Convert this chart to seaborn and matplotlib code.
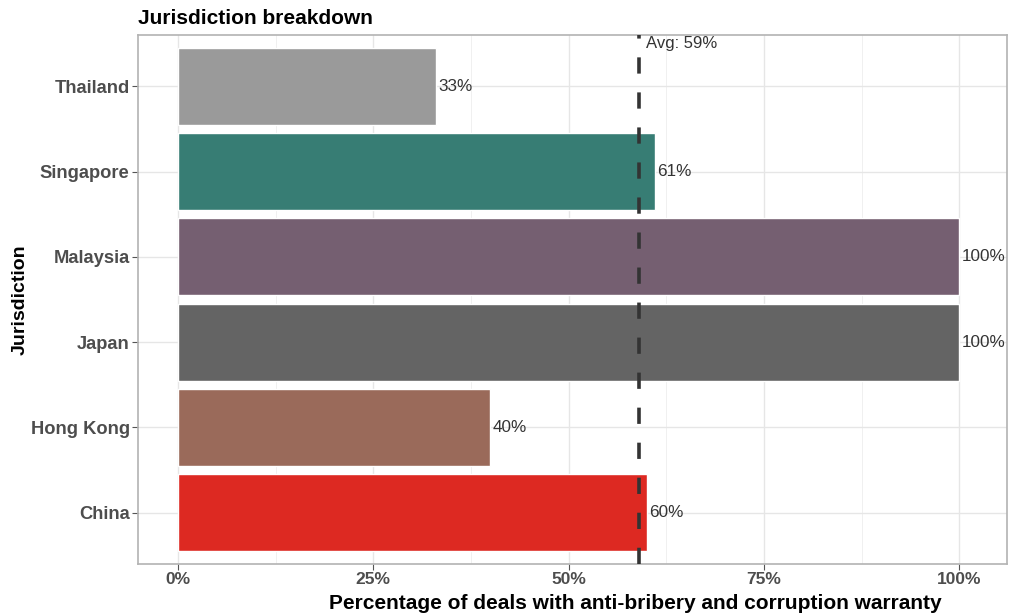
import matplotlib
matplotlib.use("Agg")
import matplotlib.pyplot as plt
import seaborn as sns
import pandas as pd

# Data
jurisdictions = ["Thailand", "Singapore", "Malaysia", "Japan", "Hong Kong", "China"]
percentages = [33, 61, 100, 100, 40, 60]
bar_colors = ["#9a9a9a", "#377d74", "#755f71", "#646464", "#9a6a5a", "#dd2922"]
average = 59
x_ticks = [0, 25, 50, 75, 100]
x_tick_labels = ["0%", "25%", "50%", "75%", "100%"]

df = pd.DataFrame({"Jurisdiction": jurisdictions, "Pct": percentages})

sns.set_theme(style="white")
plt.rcParams["font.family"] = ["Liberation Sans", "DejaVu Sans"]

fig = plt.figure(figsize=(10.11, 6.15), dpi=100)
ax = fig.add_axes([0.1365, 0.083, 0.8595, 0.86])

sns.barplot(data=df, y="Jurisdiction", x="Pct", hue="Jurisdiction",
            palette=dict(zip(jurisdictions, bar_colors)), order=jurisdictions,
            width=0.9, orient="h", legend=False, ax=ax, zorder=2,
            saturation=1)

# grid: major and minor lines
for v in [12.5, 37.5, 62.5, 87.5]:
    ax.axvline(v, color="#f0f0f0", lw=0.7, zorder=0)
for v in x_ticks:
    ax.axvline(v, color="#e6e6e6", lw=1.0, zorder=0)
for i in range(len(jurisdictions)):
    ax.axhline(i, color="#e6e6e6", lw=1.0, zorder=0)

# value labels
for i, p in enumerate(percentages):
    ax.text(p + 0.3, i, f"{p}%", va="center", ha="left", fontsize=12.3,
            color="#333333", zorder=4)

# average line
ax.axvline(average, color="#333333", lw=2.6, dashes=(4.5, 5.2), zorder=3)
ax.text(average + 0.9, -0.5, f"Avg: {average}%", va="center", ha="left",
        fontsize=12, color="#333333", zorder=4)

ax.set_xlim(-5.1, 106.1)
ax.set_ylim(5.6, -0.6)
ax.set_xticks(x_ticks)
ax.set_xticklabels(x_tick_labels, fontsize=12.5, color="#4d4d4d",
                   fontweight="bold")
ax.set_yticks(range(len(jurisdictions)))
ax.set_yticklabels(jurisdictions, fontsize=13.2, color="#4d4d4d", fontweight="bold")
ax.tick_params(axis="both", which="major", length=4, width=0.8, color="#555555",
               direction="out", bottom=True, left=True, pad=2)

ax.set_xlabel("Percentage of deals with anti-bribery and corruption warranty",
              fontsize=15, fontweight="bold", color="black")
ax.xaxis.set_label_coords(0.572, -0.0756)
ax.xaxis.label.set_va("center")
ax.set_ylabel("Jurisdiction", fontsize=14, fontweight="bold", color="black")
ax.yaxis.set_label_coords(-0.136, 0.5)
ax.yaxis.label.set_va("center")

for s in ax.spines.values():
    s.set_color("#b3b3b3")
    s.set_linewidth(1.2)

fig.text(0.1365, 0.955, "Jurisdiction breakdown", fontsize=15,
         fontweight="bold", color="black", ha="left", va="bottom")

fig.savefig("out.png", dpi=100)
